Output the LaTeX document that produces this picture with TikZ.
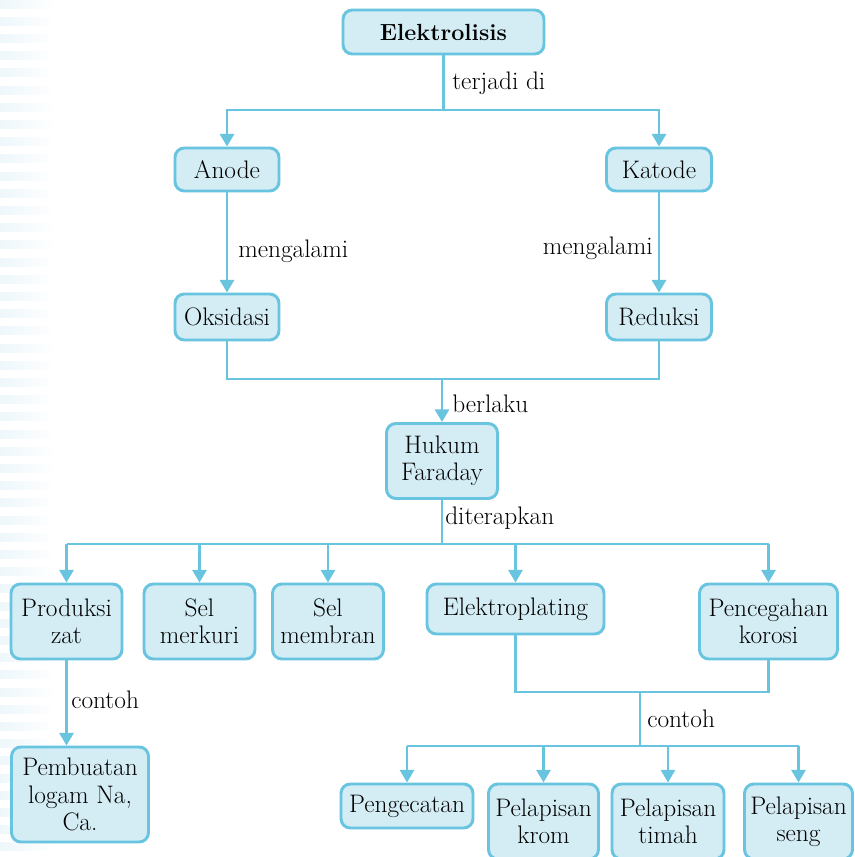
\documentclass[tikz,border=0pt]{standalone}
\usetikzlibrary{arrows.meta}
\definecolor{lc}{HTML}{68C4DF}
\definecolor{fc}{HTML}{D4EDF5}
\definecolor{sc}{HTML}{EEF7FB}
\newcommand\fsz{\fontsize{19}{20.5}\selectfont}
\newcommand\fszb{\fontsize{17.5}{20.5}\selectfont\bfseries}
\begin{document}
\begin{tikzpicture}[x=0.75pt,y=-0.75pt,
  box/.style={draw=lc, fill=fc, line width=2.2pt, rounded corners=7pt, align=center, inner sep=0pt, font=\fsz},
  sz/.style 2 args={minimum width={#1*0.75pt}, minimum height={#2*0.75pt}},
  ln/.style={draw=lc, line width=2.2pt},
  ar/.style={draw=lc, line width=2.2pt, -{Triangle[width=10.5pt,length=9.5pt]}},
  lbl/.style={font=\fsz, inner sep=0pt}]
\useasboundingbox (0,0) rectangle (854,857);
\fill[white] (0,0) rectangle (854,857);
\begin{scope}
\clip (0,0) rectangle (854,857);
\foreach \i in {0,...,49} \shade[left color=sc, right color=white] (0,{\i*17.2}) rectangle (56,{\i*17.2+8});

\node[box,sz={201}{44}, font=\fszb] (elek) at (443.5,32) {Elektrolisis};
\node[box,sz={104}{43}] (anode) at (227,169.5) {Anode};
\node[box,sz={105}{43}] (katode) at (659,169.5) {Katode};
\node[box,sz={104}{46}] (oks) at (227,317) {Oksidasi};
\node[box,sz={105}{46}] (red) at (659,317) {Reduksi};
\node[box,sz={111}{75}] (huk) at (442,461) {Hukum\\Faraday};
\node[box,sz={111}{75}] (prod) at (66.5,621.5) {Produksi\\zat};
\node[box,sz={111}{75}] (merk) at (199.5,621.5) {Sel\\merkuri};
\node[box,sz={111}{75}] (memb) at (328,621.5) {Sel\\membran};
\node[box,sz={177}{50}] (elpl) at (515.5,609) {Elektroplating};
\node[box,sz={138}{75}] (peng) at (768.5,621.5) {Pencegahan\\korosi};
\node[box,sz={137}{95}] (pemb) at (80,794.5) {Pembuatan\\logam Na,\\Ca.};
\node[box,sz={132}{44}] (pcat) at (407,806) {Pengecatan};
\node[box,sz={110}{75}] (krom) at (543.5,821.5) {Pelapisan\\krom};
\node[box,sz={112}{75}] (timah) at (668,821.5) {Pelapisan\\timah};
\node[box,sz={108}{75}] (seng) at (798.5,821.5) {Pelapisan\\seng};

% connectors
\coordinate (j1) at (443.5,110);
\draw[ln] (elek.south) -- (j1);
\draw[ar] (j1) -| (anode.north);
\draw[ar] (j1) -| (katode.north);
\draw[ar] (anode.south) -- (oks.north);
\draw[ar] (katode.south) -- (red.north);

\coordinate (j2) at (442,379);
\draw[ln] (oks.south) |- (red.south |- j2) -- (red.south);
\draw[ar] (j2) -- (huk.north);

\coordinate (j3) at (442,544);
\draw[ln] (huk.south) -- (j3);
\draw[ln] (prod.north |- j3) -- (peng.north |- j3);
\foreach \n in {prod,merk,memb,elpl,peng} \draw[ar] (\n.north |- j3) -- (\n.north);

\draw[ar] (prod.south) -- (prod.south |- pemb.north);

\coordinate (j4) at (640,692);
\coordinate (j5) at (640,746);
\draw[ln] (elpl.south) |- (peng.south |- j4) -- (peng.south);
\draw[ln] (j4) -- (j5);
\draw[ln] (pcat.north |- j5) -- (seng.north |- j5);
\foreach \n in {pcat,krom,timah,seng} \draw[ar] (\n.north |- j5) -- (\n.north);

% labels
\node[lbl, anchor=west] (l1) at (452,83) {terjadi di};
\node[lbl, anchor=west] (l2) at (238,251) {mengalami};
\node[lbl, anchor=east] (l3) at (653,248) {mengalami};
\node[lbl, anchor=west] (l4) at (452,404) {berlaku};
\node[lbl, anchor=west] (l5) at (445,518) {diterapkan};
\node[lbl, anchor=west] (l6) at (71,700) {contoh};
\node[lbl, anchor=west] (l7) at (647,719) {contoh};
\end{scope}
\end{tikzpicture}
\end{document}
